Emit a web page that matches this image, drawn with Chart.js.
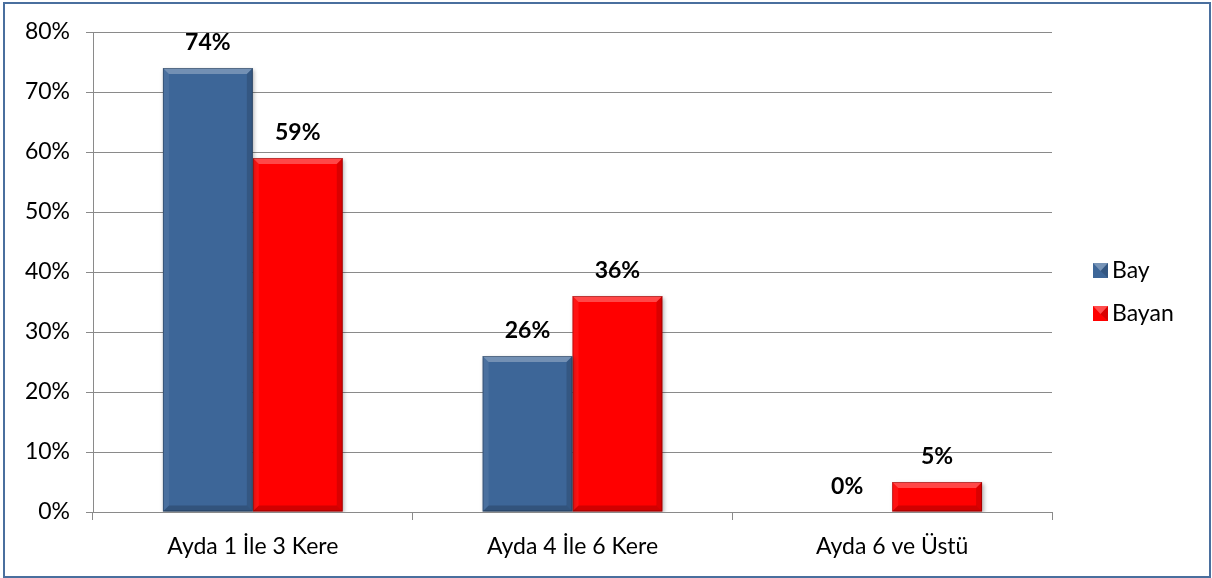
<!DOCTYPE html>
<html lang="tr">
<head>
  <meta charset="UTF-8">
  <title>Ayda Kaç Kere</title>
  <style>
    html, body { margin: 0; padding: 0; background: #fff; }
    #wrap { position: relative; width: 1212px; height: 578px; }
    #chart { position: absolute; left: 0; top: 0; }
    #frame {
      position: absolute; left: 3px; top: 2px; width: 1204px; height: 572px;
      border: 2px solid #4a6f9e; pointer-events: none;
    }
  </style>
</head>
<body>
  <div id="wrap">
    <canvas id="chart" width="1212" height="578"></canvas>
    <div id="frame"></div>
  </div>

  <script src="https://cdn.jsdelivr.net/npm/chart.js@4"></script>
  <script>
    const categories = ['Ayda 1 İle 3 Kere', 'Ayda 4 İle 6 Kere', 'Ayda 6 ve Üstü'];
    const bayValues = [74, 26, 0];
    const bayanValues = [59, 36, 5];
    const yTicks = [0, 10, 20, 30, 40, 50, 60, 70, 80];

    const FONT = 'Lato, "Open Sans", sans-serif';

    function bevelPart(ctx, color, pts) {
      ctx.fillStyle = color;
      ctx.beginPath();
      ctx.moveTo(pts[0][0], pts[0][1]);
      for (let i = 1; i < pts.length; i++) ctx.lineTo(pts[i][0], pts[i][1]);
      ctx.closePath();
      ctx.fill();
    }

    // soft bevel on each bar plus the value labels
    const bevelPlugin = {
      id: 'bevel',
      beforeDatasetsDraw(chart) {
        const ctx = chart.ctx;
        ctx.save();
        ctx.shadowColor = 'rgba(0,0,0,0.3)';
        ctx.shadowBlur = 4;
        ctx.shadowOffsetX = 1.5;
        ctx.shadowOffsetY = 1.5;
      },
      afterDatasetsDraw(chart) {
        const ctx = chart.ctx;
        ctx.restore();
        chart.data.datasets.forEach((ds, di) => {
          chart.getDatasetMeta(di).data.forEach(bar => {
            const h = bar.base - bar.y;
            if (h < 1) return;
            const l = bar.x - bar.width / 2, r = bar.x + bar.width / 2;
            const t = bar.y, b = bar.base;
            const e = Math.min(6, h / 2);
            ctx.save();
            bevelPart(ctx, 'rgba(255,255,255,0.28)', [[l, t], [r, t], [r - e, t + e], [l + e, t + e]]);
            bevelPart(ctx, 'rgba(255,255,255,0.07)', [[l, t], [l + e, t + e], [l + e, b - e], [l, b]]);
            bevelPart(ctx, 'rgba(0,0,0,0.14)', [[r, t], [r - e, t + e], [r - e, b - e], [r, b]]);
            bevelPart(ctx, 'rgba(0,0,0,0.18)', [[l, b], [l + e, b - e], [r - e, b - e], [r, b]]);
            ctx.strokeStyle = 'rgba(0,0,0,0.25)';
            ctx.lineWidth = 1;
            ctx.strokeRect(l + 0.5, t + 0.5, bar.width - 1, h - 1);
            ctx.restore();
          });
        });

        ctx.save();
        ctx.font = 'bold 23px ' + FONT;
        ctx.fillStyle = '#000';
        ctx.textAlign = 'center';
        ctx.textBaseline = 'middle';
        chart.data.datasets.forEach((ds, di) => {
          chart.getDatasetMeta(di).data.forEach((bar, i) => {
            ctx.fillText(ds.data[i] + '%', bar.x, bar.y - 25);
          });
        });
        ctx.restore();
      }
    };

    // legend on the right side
    const sideLegend = {
      id: 'sideLegend',
      afterDraw(chart) {
        const ctx = chart.ctx;
        const x = 1093;
        const rows = [270, 313];
        ctx.save();
        ctx.font = '23px ' + FONT;
        ctx.textBaseline = 'middle';
        ctx.textAlign = 'left';
        chart.data.datasets.forEach((ds, i) => {
          const y = rows[i];
          ctx.fillStyle = ds.backgroundColor;
          ctx.fillRect(x, y - 7, 15, 15);
          bevelPart(ctx, 'rgba(255,255,255,0.3)', [[x, y - 7], [x + 15, y - 7], [x + 7.5, y + 1]]);
          bevelPart(ctx, 'rgba(0,0,0,0.15)', [[x + 15, y - 7], [x + 15, y + 8], [x + 7.5, y + 1]]);
          ctx.fillStyle = '#000';
          ctx.fillText(ds.label, x + 19, y + 1);
        });
        ctx.restore();
      }
    };

    new Chart(document.getElementById('chart'), {
      type: 'bar',
      data: {
        labels: categories,
        datasets: [{
          label: 'Bay',
          data: bayValues,
          backgroundColor: '#3d6698',
          categoryPercentage: 0.5625,
          barPercentage: 1
        }, {
          label: 'Bayan',
          data: bayanValues,
          backgroundColor: '#ff0000',
          categoryPercentage: 0.5625,
          barPercentage: 1
        }]
      },
      options: {
        responsive: false,
        animation: false,
        layout: { padding: { left: 0, right: 160, top: 32, bottom: 0 } },
        plugins: {
          legend: { display: false },
          tooltip: { enabled: false }
        },
        scales: {
          x: {
            grid: { display: true, drawOnChartArea: false, color: '#8a8a8a', tickLength: 8, offset: true },
            border: { color: '#8a8a8a' },
            ticks: { color: '#000', font: { family: FONT, size: 23 }, padding: 13 },
            afterFit(scale) { scale.height = 66; }
          },
          y: {
            min: 0,
            max: 80,
            afterBuildTicks(scale) { scale.ticks = yTicks.map(v => ({ value: v })); },
            grid: { color: '#8a8a8a', tickLength: 7 },
            border: { color: '#8a8a8a' },
            ticks: {
              color: '#000',
              font: { family: FONT, size: 23 },
              padding: 16,
              callback: v => v + '%'
            },
            afterFit(scale) { scale.width = 93; }
          }
        }
      },
      plugins: [bevelPlugin, sideLegend]
    });
  </script>
</body>
</html>
